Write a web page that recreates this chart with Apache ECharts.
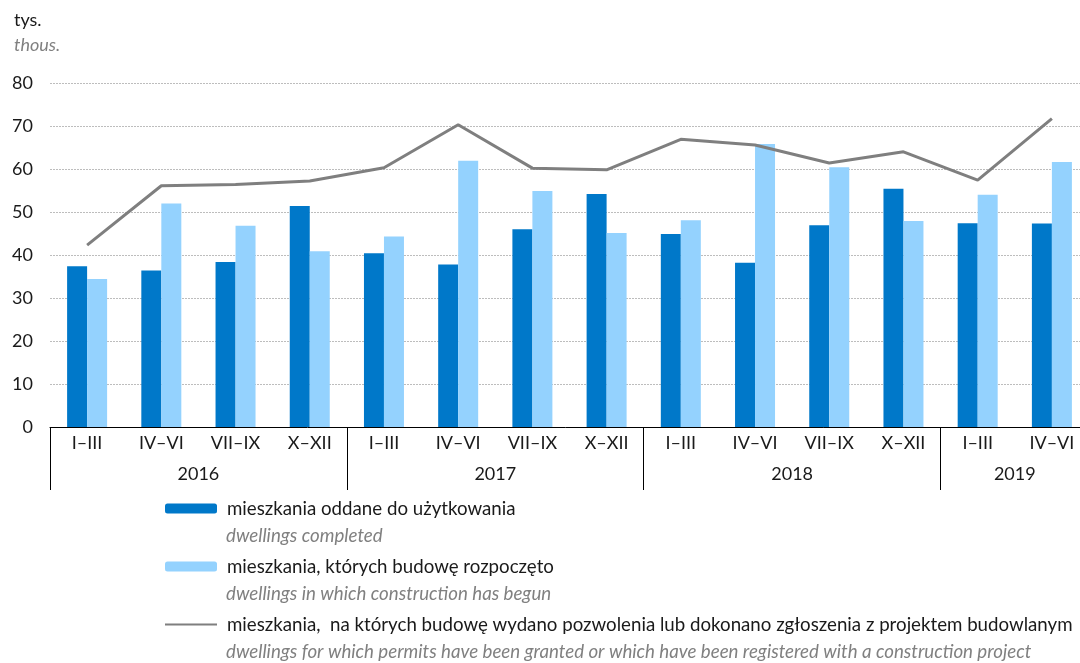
<!DOCTYPE html>
<html lang="pl">
<head>
    <meta charset="UTF-8">
    <title>Mieszkania</title>
    <script src="https://cdn.jsdelivr.net/npm/echarts@6.0.0/dist/echarts.min.js"></script>
</head>
<style>
    body { margin: 0; background: #fff; }
    #Chart1 { width: 1080px; height: 663px; }
</style>
<body>
    <div id="Chart1"></div>
</body>
<script>
// quarters on the axis
const quarters = ['I–III', 'IV–VI', 'VII–IX', 'X–XII',
                  'I–III', 'IV–VI', 'VII–IX', 'X–XII',
                  'I–III', 'IV–VI', 'VII–IX', 'X–XII',
                  'I–III', 'IV–VI'];
const years = ['2016', '2017', '2018', '2019'];
const yearQuarters = [4, 4, 4, 2];

// thousands of dwellings
const completed = [37.4, 36.4, 38.4, 51.4, 40.4, 37.8, 46.0, 54.2, 44.9, 38.2, 46.9, 55.4, 47.4, 47.3];
const started   = [34.4, 52.0, 46.8, 40.9, 44.3, 61.9, 54.9, 45.1, 48.1, 65.8, 60.4, 47.9, 54.0, 61.6];
const permits   = [42.3, 56.1, 56.4, 57.2, 60.3, 70.3, 60.2, 59.8, 66.9, 65.6, 61.4, 64.0, 57.4, 71.7];

const names = [
    'mieszkania oddane do użytkowania',
    'mieszkania, których budowę rozpoczęto',
    'mieszkania,  na których budowę wydano pozwolenia lub dokonano zgłoszenia z projektem budowlanym'
];
const namesEn = [
    'dwellings completed',
    'dwellings in which construction has begun',
    'dwellings for which permits have been granted or which have been registered with a construction project'
];

const FONT = 'Lato';

// year separators and year label positions along the quarter scale
let yearBounds = [0];
let yearCenters = [];
let acc = 0;
for (let i = 0; i < yearQuarters.length; i++) {
    yearCenters.push(acc + yearQuarters[i] / 2);
    acc += yearQuarters[i];
    yearBounds.push(acc);
}

let myChart1 = echarts.init(document.getElementById('Chart1'));

let option = {
    animation: false,
    backgroundColor: '#fff',
    textStyle: { fontFamily: FONT },
    title: {
        text: 'tys.',
        subtext: 'thous.',
        left: 9,
        top: 6,
        itemGap: 7,
        textStyle: { fontSize: 18, fontWeight: 'normal', color: '#1a1a1a', fontFamily: FONT },
        subtextStyle: { fontSize: 18, fontStyle: 'italic', color: '#808080', fontFamily: FONT }
    },
    legend: {
        orient: 'vertical',
        left: 164,
        top: 498,
        padding: 0,
        itemWidth: 52,
        itemHeight: 10,
        itemGap: 37,
        textStyle: { fontSize: 18.7, color: '#1a1a1a', fontFamily: FONT, lineHeight: 21, padding: [0, 0, 0, 5] },
        data: [
            names[0],
            names[1],
            { name: names[2], itemStyle: { color: 'rgba(0,0,0,0)', borderWidth: 0 } }
        ]
    },
    graphic: namesEn.map((t, i) => ({
        type: 'text',
        left: 226,
        top: 526 + i * 58,
        style: { text: t, fontSize: 18.7, fontStyle: 'italic', fill: '#808080', fontFamily: FONT }
    })),
    grid: {
        left: 50,
        width: 1039,
        top: 83,
        bottom: 236,
        outerBoundsMode: 'none',
        containLabel: false
    },
    xAxis: [
        {
            type: 'category',
            data: quarters,
            axisLine: { lineStyle: { color: '#000', width: 1 } },
            axisTick: { interval: 0, length: 31, lineStyle: { color: '#000' } },
            axisLabel: { interval: 0, margin: 7, fontSize: 18, color: '#1a1a1a', fontFamily: FONT }
        },
        {
            type: 'value',
            min: 0,
            max: quarters.length,
            position: 'bottom',
            axisLine: { show: false },
            splitLine: { show: false },
            axisTick: { show: true, customValues: yearBounds, length: 63, lineStyle: { color: '#000' } },
            axisLabel: {
                customValues: yearCenters,
                margin: 38,
                fontSize: 18,
                color: '#1a1a1a',
                fontFamily: FONT,
                formatter: function (v) {
                    let i = yearCenters.indexOf(v);
                    return i >= 0 ? years[i] : '';
                }
            }
        }
    ],
    yAxis: {
        type: 'value',
        min: 0,
        max: 80,
        interval: 10,
        axisLine: { show: false },
        axisTick: { show: false },
        axisLabel: { margin: 17, fontSize: 18, color: '#1a1a1a', fontFamily: FONT },
        splitLine: { lineStyle: { color: '#bdbdbd', type: [2, 1], width: 1 } }
    },
    series: [
        {
            name: names[0],
            type: 'bar',
            data: completed,
            barWidth: 20,
            barGap: '0%',
            itemStyle: { color: '#0078c9' }
        },
        {
            name: names[1],
            type: 'bar',
            data: started,
            barWidth: 20,
            barGap: '0%',
            itemStyle: { color: '#94d2fe' }
        },
        {
            name: names[2],
            type: 'line',
            data: permits,
            symbol: 'none',
            lineStyle: { color: '#7f7f7f', width: 3 },
            itemStyle: { color: '#7f7f7f' },
            z: 5
        }
    ]
};

myChart1.setOption(option);
</script>
</html>
